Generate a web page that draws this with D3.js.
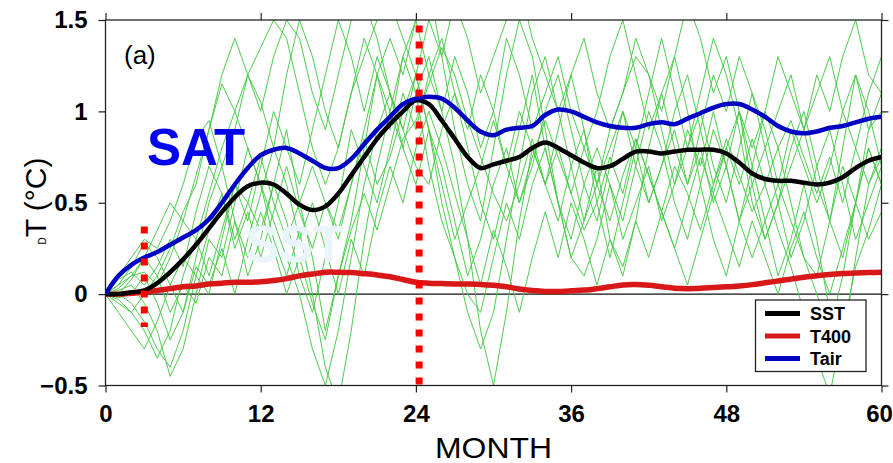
<!DOCTYPE html>
<html><head><meta charset="utf-8">
<script src="https://cdn.jsdelivr.net/npm/d3@7"></script>
<style>body{margin:0;background:#fff}svg{display:block}</style>
</head><body>
<svg id="c" width="893" height="463"></svg>
<script>
const months = d3.range(0, 61);
const xTicks = [0, 12, 24, 36, 48, 60];
const yTicks = [-0.5, 0, 0.5, 1, 1.5];
const yTickLabels = ["\u22120.5", "0", "0.5", "1", "1.5"];
const markerMonths = [3, 24.25];
const markerRanges = [[0.37, -0.18], [1.47, -0.5]];

const sst = [0,0.0,0.01,0.02,0.06,0.12,0.19,0.27,0.36,0.45,0.53,0.59,0.61,0.6,0.55,0.49,0.46,0.48,0.55,0.65,0.75,0.85,0.93,1.0,1.06,1.04,0.95,0.85,0.75,0.69,0.71,0.73,0.75,0.80,0.83,0.80,0.76,0.72,0.69,0.70,0.74,0.78,0.78,0.77,0.78,0.79,0.79,0.79,0.77,0.72,0.66,0.63,0.62,0.62,0.61,0.60,0.61,0.64,0.69,0.73,0.75];
const t400 = [0,0.0,0.005,0.01,0.02,0.03,0.04,0.045,0.055,0.06,0.065,0.065,0.068,0.075,0.085,0.1,0.11,0.12,0.12,0.118,0.112,0.105,0.095,0.08,0.065,0.06,0.058,0.056,0.055,0.053,0.048,0.04,0.028,0.02,0.015,0.015,0.018,0.022,0.03,0.04,0.05,0.052,0.048,0.04,0.032,0.03,0.032,0.036,0.04,0.045,0.052,0.062,0.072,0.082,0.092,0.1,0.108,0.113,0.116,0.118,0.12];
const tair = [0,0.1,0.16,0.2,0.23,0.27,0.31,0.35,0.41,0.5,0.6,0.69,0.76,0.79,0.80,0.77,0.73,0.69,0.69,0.74,0.82,0.90,0.97,1.04,1.07,1.08,1.07,1.02,0.95,0.89,0.87,0.90,0.91,0.92,0.98,1.01,1.0,0.97,0.94,0.92,0.91,0.91,0.93,0.94,0.93,0.96,0.99,1.02,1.04,1.04,1.01,0.97,0.92,0.89,0.88,0.89,0.91,0.92,0.94,0.96,0.97];

const g1 = [0,-0.03,-0.1,-0.2,-0.35,-0.2,0.1,0.3,0.55,0.8,1.0,1.2,1.35,1.5,1.4,1.1,0.8,0.6,0.8,1.1,1.3,1.5,1.6,1.4,1.2,0.9,0.5,0.2,-0.1,-0.3,-0.1,0.3,0.7,1.1,1.3,1.0,0.7,0.4,0.6,0.9,1.1,1.3,1.2,0.9,0.6,0.8,1.1,1.4,1.2,0.9,0.5,0.3,0.5,0.8,1.0,0.7,0.4,0.2,0.5,0.9,1.1];
const g2 = [0,0.05,0.15,0.28,0.2,0.05,-0.1,0.2,0.5,0.7,0.4,0.1,0.3,0.6,0.9,0.5,0.2,-0.2,0.1,0.4,0.8,1.2,1.4,1.2,1.5,1.7,1.3,0.9,0.6,0.4,0.8,1.2,1.5,1.3,0.9,0.5,0.2,0.4,0.7,0.3,0.1,0.4,0.8,1.1,1.3,1.0,0.6,0.3,0.1,0.4,0.7,1.0,0.8,0.5,0.2,0.1,0.4,0.8,1.2,1.0,0.7];
const g3 = [0,0.02,0.05,-0.05,-0.2,-0.45,-0.3,0.0,0.3,0.2,0.5,0.8,0.6,0.3,0.1,0.35,0.0,-0.4,-0.6,-0.2,0.3,0.7,1.0,0.8,1.1,1.3,1.0,0.7,0.3,-0.2,-0.5,-0.1,0.4,0.8,0.6,0.9,1.2,0.9,0.5,0.2,0.5,0.8,0.5,0.7,1.0,1.2,0.9,0.6,0.8,1.0,0.7,0.4,0.1,0.3,0.6,0.3,-0.1,-0.3,0.2,0.6,0.8];
const g4 = [0,0.1,0.2,0.3,0.25,0.4,0.6,0.85,0.95,0.7,0.9,1.2,1.05,0.8,1.2,1.5,1.3,1.0,0.8,1.1,1.4,1.2,0.9,1.3,1.5,1.2,1.0,1.3,1.1,0.8,1.0,1.4,1.2,0.9,1.1,1.3,1.0,0.8,1.0,1.3,1.5,1.2,0.9,1.1,0.8,0.6,0.9,1.2,1.0,1.3,1.1,0.8,1.0,1.2,0.9,1.1,1.3,1.0,0.8,1.1,1.3];
const g5 = [0,-0.05,-0.1,0.0,0.1,0.25,0.45,0.6,0.9,1.15,1.0,0.8,0.6,0.4,0.2,0.0,-0.3,-0.5,-0.2,0.2,0.6,0.9,1.1,0.9,0.7,0.6,0.9,1.1,0.8,0.5,0.3,0.6,0.9,1.2,0.8,0.5,0.2,0.1,0.3,0.6,0.4,0.7,1.0,0.8,0.5,0.3,0.6,0.9,0.7,0.4,0.6,0.8,0.5,0.2,0.4,0.7,0.9,0.6,0.3,0.5,0.7];
const g6 = [0,0.0,-0.05,-0.15,-0.3,-0.4,-0.2,0.1,0.0,0.3,0.6,0.4,0.7,1.0,0.8,0.6,0.9,1.2,1.5,1.3,1.0,1.3,1.1,0.8,0.6,0.9,0.7,0.4,0.1,0.3,0.6,0.8,0.5,0.7,1.0,1.2,0.9,0.6,0.4,0.7,1.0,0.8,1.1,1.4,1.1,0.8,1.0,0.7,0.5,0.8,1.1,0.9,0.6,0.9,0.7,0.5,0.7,1.0,1.2,0.9,1.0];
const g7 = [0,0.05,0.1,0.12,0.05,0.2,0.4,0.3,0.1,0.35,0.6,0.5,0.75,0.5,0.3,0.5,0.7,0.5,0.3,0.6,0.9,1.2,1.0,1.3,1.1,0.7,0.4,0.2,0.0,-0.1,0.2,0.5,0.3,0.6,0.8,0.5,0.3,0.6,0.8,0.6,0.3,0.5,0.7,0.4,0.6,0.9,0.7,1.0,0.7,0.4,0.2,0.4,0.6,0.4,0.2,0.0,-0.2,0.1,0.5,0.8,0.6];
const g8 = [0,-0.1,-0.2,-0.3,-0.15,0.05,0.2,0.1,0.35,0.55,0.3,0.5,0.35,0.6,0.4,0.1,-0.1,0.2,0.5,0.9,0.7,0.5,0.8,1.1,0.9,1.2,1.4,1.1,0.9,1.2,1.0,0.7,1.0,0.8,0.6,0.4,0.7,0.9,0.6,0.8,1.0,0.7,0.5,0.7,0.9,0.6,0.8,0.5,0.7,1.0,0.6,0.3,0.5,0.7,0.9,0.6,0.4,0.7,0.5,0.8,0.6];
const g9 = [0,0.08,0.12,0.05,0.15,0.3,0.15,0.45,0.7,0.55,0.25,0.45,0.2,0.45,0.7,0.45,0.25,0.5,0.35,0.6,0.85,0.6,0.75,1.0,1.2,0.9,0.6,0.3,0.5,0.7,0.95,0.7,0.5,0.75,0.95,0.75,0.55,0.8,0.6,0.4,0.65,0.85,0.65,0.45,0.7,0.55,0.35,0.6,0.85,0.65,0.45,0.6,0.8,0.95,0.75,0.55,0.75,0.5,0.8,0.6,0.75];
const g10 = [0,0.0,0.08,0.2,0.1,-0.1,0.05,-0.05,0.2,0.1,0.4,0.2,0.45,0.25,0.0,0.2,-0.05,-0.25,0.1,0.35,0.55,0.35,0.6,0.85,0.95,1.15,1.35,1.2,0.95,0.75,0.55,0.4,0.6,0.85,0.6,0.8,0.55,0.35,0.5,0.75,0.55,0.85,0.65,0.45,0.25,0.5,0.75,0.55,0.8,0.6,0.85,0.6,0.35,0.15,-0.1,-0.35,-0.55,-0.2,0.15,0.35,0.6];
const g11 = [0,0.03,0.1,0.2,0.35,0.5,0.4,0.65,0.9,1.2,1.4,1.2,1.0,1.3,1.5,1.4,1.1,0.9,1.2,1.5,1.6,1.4,1.1,0.9,1.2,1.5,1.3,1.6,1.4,1.1,1.3,1.5,1.7,1.4,1.2,1.0,1.2,1.4,1.1,0.9,1.1,1.4,1.2,1.0,1.3,1.6,1.4,1.1,1.3,1.0,0.8,1.0,1.3,1.1,0.9,1.2,1.0,1.3,1.5,1.2,1.1];
const g12 = [0,-0.02,0.0,0.1,-0.05,-0.25,-0.1,0.15,0.05,0.25,0.0,0.3,0.55,0.8,0.6,0.3,0.5,0.25,0.0,0.3,0.1,0.45,0.7,0.5,0.8,1.0,0.8,0.55,0.3,0.05,0.35,0.15,-0.1,0.2,0.45,0.2,0.5,0.3,0.05,0.3,0.15,0.4,0.2,0.45,0.25,0.05,0.3,0.55,0.35,0.15,0.4,0.2,0.0,0.25,0.45,0.2,0.0,0.25,0.5,0.3,0.45];
const members = [g1,g2,g3,g4,g5,g6,g7,g8,g9,g10,g11,g12];

const legendNames = ["SST", "T400", "Tair"];
const legendColors = ["#000000", "#d81818", "#0000c4"];

const svg = d3.select("#c");
const x = d3.scaleLinear().domain([0, 60]).range([105.5, 881.5]);
const y = d3.scaleLinear().domain([-0.5, 1.5]).range([385.5, 20]);
const FONT = "'Liberation Sans', Arial, Helvetica, sans-serif";

svg.append("defs").append("clipPath").attr("id", "clip")
  .append("rect").attr("x", x(0)).attr("y", y(1.5))
  .attr("width", x(60) - x(0)).attr("height", y(-0.5) - y(1.5));

svg.append("line").attr("x1", x(0)).attr("x2", x(60)).attr("y1", y(0)).attr("y2", y(0))
  .attr("stroke", "#111").attr("stroke-width", 1.2);

const plot = svg.append("g").attr("clip-path", "url(#clip)");
const lineG = d3.line().x((d, i) => x(months[i])).y(d => y(d));
plot.selectAll("path.mem").data(members).enter().append("path")
  .attr("class", "mem").attr("d", lineG)
  .attr("fill", "none").attr("stroke", "#44c844").attr("stroke-width", 1)
  .attr("stroke-opacity", 0.95);

svg.append("text").attr("x", 147).attr("y", 165).text("SAT")
  .attr("font-family", FONT).attr("font-weight", "bold").attr("font-size", 51)
  .attr("fill", "#0000ee");
svg.append("text").attr("x", 245).attr("y", 262).text("SST")
  .attr("font-family", FONT).attr("font-weight", "bold").attr("font-size", 51)
  .attr("fill", "#eaf4fb");

const lineS = d3.line().x((d, i) => x(months[i])).y(d => y(d)).curve(d3.curveCatmullRom);
plot.append("path").attr("d", lineS(t400)).attr("fill", "none").attr("stroke", legendColors[1]).attr("stroke-width", 5.5);
plot.append("path").attr("d", lineS(sst)).attr("fill", "none").attr("stroke", legendColors[0]).attr("stroke-width", 4.5);
plot.append("path").attr("d", lineS(tair)).attr("fill", "none").attr("stroke", legendColors[2]).attr("stroke-width", 4.5);

markerMonths.forEach((m, i) => {
  svg.append("line").attr("x1", x(m)).attr("x2", x(m))
    .attr("y1", y(markerRanges[i][0])).attr("y2", y(markerRanges[i][1]))
    .attr("stroke", "#ff0000").attr("stroke-width", 7).attr("stroke-dasharray", "7,9");
});

function styleAxis(g) {
  g.selectAll(".domain").remove();
  g.selectAll(".tick line").attr("stroke", "#222").attr("stroke-width", 1.2);
  g.selectAll("text").attr("font-family", FONT).attr("font-weight", "bold")
    .attr("font-size", 24).attr("fill", "#000");
}
const bx = svg.append("g").attr("transform", `translate(0,${y(-0.5)})`)
  .call(d3.axisBottom(x).tickValues(xTicks).tickSize(7).tickPadding(12).tickFormat(d => String(d)))
  .call(styleAxis);
bx.selectAll(".tick text").filter(d => d === 60).attr("dx", -2.5);
svg.append("g").attr("transform", `translate(0,${y(1.5)})`)
  .call(d3.axisTop(x).tickValues(xTicks).tickSize(7).tickFormat(""))
  .call(styleAxis);
svg.append("g").attr("transform", `translate(${x(0)},0)`)
  .call(d3.axisLeft(y).tickValues(yTicks).tickSize(7).tickPadding(11).tickFormat((d, i) => yTickLabels[i]))
  .call(styleAxis);
svg.append("g").attr("transform", `translate(${x(60)},0)`)
  .call(d3.axisRight(y).tickValues(yTicks).tickSize(7).tickFormat(""))
  .call(styleAxis);

svg.append("rect").attr("x", x(0)).attr("y", y(1.5))
  .attr("width", x(60) - x(0)).attr("height", y(-0.5) - y(1.5))
  .attr("fill", "none").attr("stroke", "#222").attr("stroke-width", 1.3);

const cx = (x(0) + x(60)) / 2;
svg.append("text").attr("x", cx).attr("y", 458)
  .attr("text-anchor", "middle").attr("font-family", FONT).attr("font-size", 29)
  .attr("transform", `translate(${cx},458) scale(1.1,1) translate(${-cx},-458)`)
  .text("MONTH");
const yt = svg.append("text").attr("transform", "translate(46,201) rotate(-90)")
  .attr("text-anchor", "middle").attr("font-family", FONT).attr("font-size", 30);
yt.append("tspan").attr("font-size", 10).text("D");
yt.append("tspan").text("T (°C)");

svg.append("text").attr("x", 124).attr("y", 64).attr("font-family", FONT)
  .attr("font-size", 26).text("(a)");

const lg = svg.append("g");
lg.append("rect").attr("x", 755.5).attr("y", 300).attr("width", 110.5).attr("height", 71.5)
  .attr("fill", "#fff").attr("stroke", "#222").attr("stroke-width", 1.3);
legendNames.forEach((n, i) => {
  const yy = 313.5 + i * 22.5;
  lg.append("line").attr("x1", 765).attr("x2", 800).attr("y1", yy).attr("y2", yy)
    .attr("stroke", legendColors[i]).attr("stroke-width", 5);
  lg.append("text").attr("x", 810).attr("y", yy + 6.5).attr("font-family", FONT)
    .attr("font-size", 18).attr("font-weight", "bold").text(n);
});
</script>
</body></html>
